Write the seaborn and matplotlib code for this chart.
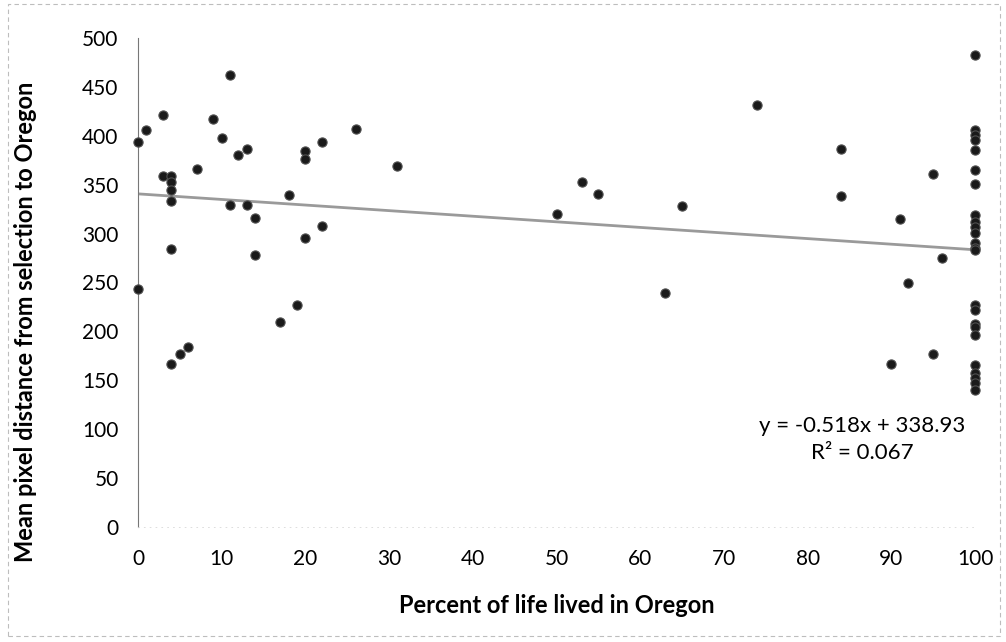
import numpy as np
import pandas as pd
import matplotlib
matplotlib.use("Agg")
import matplotlib.pyplot as plt
import seaborn as sns
from matplotlib.patches import Rectangle

# ── Data ───────────────────────────────────────────────────────
pct_oregon = [0, 0, 1, 3, 3, 4, 4, 4, 4, 4, 4, 5, 6, 7, 9, 10, 11, 11,
              12, 13, 13, 14, 14, 17, 18, 19, 20, 20, 20, 22, 22, 26, 31,
              50, 53, 55, 63, 65, 74, 84, 84, 90, 91, 92, 95, 95, 96,
              100, 100, 100, 100, 100, 100, 100, 100, 100, 100, 100, 100,
              100, 100, 100, 100, 100, 100, 100, 100, 100, 100, 100, 100]
mean_dist = [394, 243, 406, 421, 359, 359, 353, 345, 333, 284, 167, 177,
             184, 366, 417, 398, 462, 329, 380, 386, 329, 316, 278, 210,
             339, 227, 384, 376, 295, 394, 308, 407, 369,
             320, 353, 341, 239, 328, 431, 386, 338, 167, 315, 249, 361,
             177, 275,
             483, 406, 401, 396, 385, 365, 351, 319, 312, 307, 301, 290,
             285, 283, 227, 222, 208, 205, 196, 166, 157, 152, 147, 140]

x_ticks = [0, 10, 20, 30, 40, 50, 60, 70, 80, 90, 100]
y_ticks = [0, 50, 100, 150, 200, 250, 300, 350, 400, 450, 500]

eq_text = "y = -0.518x + 338.93"
r2_text = "R² = 0.067"

df = pd.DataFrame({"pct": pct_oregon, "dist": mean_dist})

# ── Figure ─────────────────────────────────────────────────────
sns.set_style("white")
plt.rcParams["font.family"] = ["Lato", "DejaVu Sans"]

fig = plt.figure(figsize=(10.06, 6.42), dpi=100)
ax = fig.add_axes([138 / 1006, 1 - 527 / 642, (975 - 138) / 1006, (527 - 38) / 642])

sns.regplot(data=df, x="pct", y="dist", ax=ax, ci=None, truncate=True,
            scatter_kws=dict(s=44, color="#1a1a1a", edgecolor="#505050",
                             linewidths=0.8, alpha=1, clip_on=False, zorder=3),
            line_kws=dict(color="#9a9a9a", lw=2.0, zorder=2))

ax.set_xlim(0, 100)
ax.set_ylim(0, 500)
ax.set_xticks(x_ticks)
ax.set_yticks(y_ticks)
ax.tick_params(axis="x", labelsize=15, length=4, width=0.6, color="#bbbbbb", pad=12)
ax.tick_params(axis="y", labelsize=15, length=4, width=0.6, color="#999999", pad=10)
for lbl in ax.get_xticklabels() + ax.get_yticklabels():
    lbl.set_color("#000000")

for side in ["top", "right"]:
    ax.spines[side].set_visible(False)
ax.spines["left"].set_color("#777777")
ax.spines["left"].set_linewidth(0.8)
ax.spines["bottom"].set_color("#d8d8d8")
ax.spines["bottom"].set_linewidth(0.6)
ax.spines["bottom"].set_linestyle((0, (1, 6)))

ax.set_xlabel("Percent of life lived in Oregon", fontsize=17, fontweight="bold", color="#000000")
ax.set_ylabel("Mean pixel distance from selection to Oregon", fontsize=17, fontweight="bold", color="#000000")
ax.xaxis.set_label_coords(0.5, -0.16)
ax.yaxis.set_label_coords(-0.135, 0.42)
ax.xaxis.label.set_va("center")
ax.yaxis.label.set_va("center")

# trendline equation, as Excel placed it
ax.text(0.865, 0.206, eq_text, transform=ax.transAxes, ha="center", va="center",
        fontsize=16, color="#000000")
ax.text(0.865, 0.152, r2_text, transform=ax.transAxes, ha="center", va="center",
        fontsize=16, color="#000000")

# faint scan border around the chart
fig.patches.append(Rectangle((8 / 1006, 6 / 642), 992 / 1006, 632 / 642,
                             transform=fig.transFigure, fill=False,
                             edgecolor="#bdbdbd", lw=0.8, ls=(0, (4, 3))))

fig.savefig("out.png", dpi=100)
